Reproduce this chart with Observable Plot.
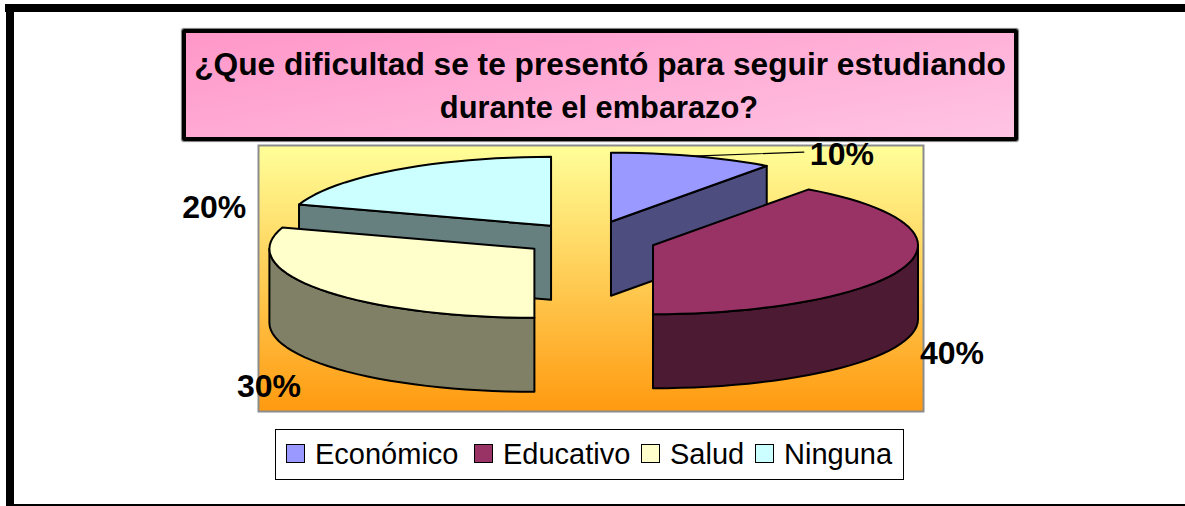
<!DOCTYPE html>
<html lang="es">
<head>
<meta charset="utf-8">
<script src="https://cdn.jsdelivr.net/npm/d3@7"></script>
<script src="https://cdn.jsdelivr.net/npm/@observablehq/plot@0.6"></script>
<style>
  html, body { margin: 0; padding: 0; background: #fff; }
  #page { position: relative; width: 1185px; height: 506px; overflow: hidden; font-family: "Liberation Sans", Arial, sans-serif; color: #000; }
  .bar { position: absolute; background: #000; }
  #title { position: absolute; left: 182px; top: 29px; width: 828px; height: 104px; border: 4px solid #000; border-radius: 2px;
    box-shadow: 0 0 1px 1px #777; background: linear-gradient(170deg, #ff97c9, #ffc4e3);
    font-weight: bold; line-height: 43px; text-align: center; box-sizing: content-box; }
  #title span { display: block; position: relative; top: 10px; }
  #title .l1 { font-size: 31.7px; }
  #title .l2 { font-size: 30.8px; left: -1px; }
  #chart { position: absolute; left: 0; top: 140px; }
  #legend { position: absolute; left: 275px; top: 429px; width: 627px; height: 49px; border: 1.5px solid #000; }
  #legend .sw { position: absolute; top: 14px; width: 17px; height: 17px; border: 1.5px solid #000; }
  #legend .tx { position: absolute; top: 6px; font-size: 29px; line-height: 36px; white-space: nowrap; }
</style>
</head>
<body>
<div id="page">
  <div class="bar" style="left:5px;top:4px;width:1180px;height:8px"></div>
  <div class="bar" style="left:6px;top:4px;width:8px;height:502px"></div>
  <div class="bar" style="left:14px;top:504px;width:1171px;height:2px"></div>
  <div id="title"><span class="l1">¿Que dificultad se te presentó para seguir estudiando</span><span class="l2">durante el embarazo?</span></div>
  <div id="chart"></div>
  <div id="legend"></div>
</div>
<script>
// Data
const categories = ["Económico", "Educativo", "Salud", "Ninguna"];
const percents = [10, 40, 30, 20];
const topColors = ["#9999FF", "#993366", "#FFFFCC", "#CCFFFF"];
// Draw order, back to front
const drawOrder = ["Ninguna", "Económico", "Educativo", "Salud"];

// Layout of the pie and its labels
const W = 1185, H = 280;
const box = {left: 258, right: 923, top: 145 - 140, bottom: 411 - 140};
const cx = 589.5, cy = 237.6 - 140, rx = 265, ry = 69;
const explode = 0.25, depth = 74 / 69;
// small perspective corrections of the exploded slices, in pixels
const nudge = {"Económico": [0.5, 0], "Educativo": [0, 1.8], "Salud": [-2, 0.6], "Ninguna": [0, 1.7]};
const labelShift = {"Económico": [149, -1], "Educativo": [47, 87], "Salud": [-51, 97], "Ninguna": [-181, 38]};
const step = Math.PI / 60;

const pie = d3.pie().sort(null).value((d) => d.value);
const slices = pie(categories.map((name, i) => ({name, value: percents[i], color: topColors[i]})))
  .map((a) => {
    const mid = (a.startAngle + a.endAngle) / 2;
    const [nx, ny] = nudge[a.data.name];
    return {
      ...a.data, a0: a.startAngle, a1: a.endAngle, mid,
      ax: explode * Math.sin(mid) + nx / rx, ay: explode * Math.cos(mid) - ny / ry
    };
  });

const rim = (s, t) => [s.ax + Math.sin(t), s.ay + Math.cos(t)];
const angles = (a, b) => {
  const out = d3.range(a, b, step);
  out.push(b);
  return out;
};

const faces = [];
function addFace(id, color, pts) {
  pts.concat([pts[0]]).forEach(([x, y]) => faces.push({id, color, x, y}));
}
for (const name of drawOrder) {
  const s = slices.find((d) => d.name === name);
  const side = d3.rgb(s.color);
  const shade = d3.rgb(side.r / 2, side.g / 2, side.b / 2).formatHex();
  // radial faces that look towards the viewer
  for (const [t, visible] of [[s.a0, Math.sin(s.a0) < -1e-6], [s.a1, Math.sin(s.a1) > 1e-6]]) {
    if (!visible) continue;
    const [rxp, ryp] = rim(s, t);
    addFace(name + "-radial-" + t, shade, [[s.ax, s.ay], [rxp, ryp], [rxp, ryp - depth], [s.ax, s.ay - depth]]);
  }
  // outer wall, only the front half of the ellipse
  const w0 = Math.max(s.a0, Math.PI / 2), w1 = Math.min(s.a1, 3 * Math.PI / 2);
  if (w1 > w0) {
    const upper = angles(w0, w1).map((t) => rim(s, t));
    const lower = upper.map(([x, y]) => [x, y - depth]).reverse();
    addFace(name + "-wall", shade, upper.concat(lower));
  }
  // top
  addFace(name + "-top", s.color, [[s.ax, s.ay]].concat(angles(s.a0, s.a1).map((t) => rim(s, t))));
}

const labels = slices.map((s) => {
  const [x, y] = rim(s, s.mid);
  const [dx, dy] = labelShift[s.name];
  return {text: s.value + "%", x: x + dx / rx, y: y - dy / ry};
});
const eco = slices[0];
const [lx, ly] = rim(eco, eco.mid);
const leader = [{x: lx, y: ly}, {x: lx + 111 / rx, y: ly + 4 / ry}];

const chart = Plot.plot({
  width: W, height: H,
  marginLeft: box.left, marginRight: W - box.right, marginTop: box.top, marginBottom: H - box.bottom,
  style: {background: "transparent", overflow: "visible"},
  x: {axis: null, domain: [(box.left - cx) / rx, (box.right - cx) / rx]},
  y: {axis: null, domain: [(cy - box.bottom) / ry, (cy - box.top) / ry]},
  color: {type: "identity"},
  marks: [
    () => {
      const ns = "http://www.w3.org/2000/svg";
      const defs = document.createElementNS(ns, "defs");
      const g = document.createElementNS(ns, "linearGradient");
      g.setAttribute("id", "bg");
      g.setAttribute("x1", "0"); g.setAttribute("y1", "0"); g.setAttribute("x2", "0"); g.setAttribute("y2", "1");
      [["0", "#FFFF99"], ["1", "#FF9A10"]].forEach(([o, c]) => {
        const st = document.createElementNS(ns, "stop");
        st.setAttribute("offset", o); st.setAttribute("stop-color", c);
        g.appendChild(st);
      });
      defs.appendChild(g);
      return defs;
    },
    Plot.frame({fill: "url(#bg)", stroke: "#8c8c8c", strokeWidth: 2}),
    Plot.line(faces, {x: "x", y: "y", z: "id", fill: "color", stroke: "#000", strokeWidth: 2, strokeLinejoin: "round"}),
    Plot.line(leader, {x: "x", y: "y", stroke: "#000", strokeWidth: 1.2}),
    Plot.text(labels, {x: "x", y: "y", text: "text", fontSize: 32, fontWeight: "bold", fill: "#000",
      fontFamily: "Liberation Sans, Arial, sans-serif", textAnchor: "middle", lineAnchor: "middle"})
  ]
});
document.getElementById("chart").appendChild(chart);

// Legend
const legendLeft = [10, 198, 365, 479];
const legend = document.getElementById("legend");
categories.forEach((name, i) => {
  const sw = document.createElement("div");
  sw.className = "sw";
  sw.style.left = legendLeft[i] + "px";
  sw.style.background = topColors[i];
  legend.appendChild(sw);
  const tx = document.createElement("div");
  tx.className = "tx";
  tx.style.left = legendLeft[i] + 29 + "px";
  tx.textContent = name;
  legend.appendChild(tx);
});
</script>
</body>
</html>
